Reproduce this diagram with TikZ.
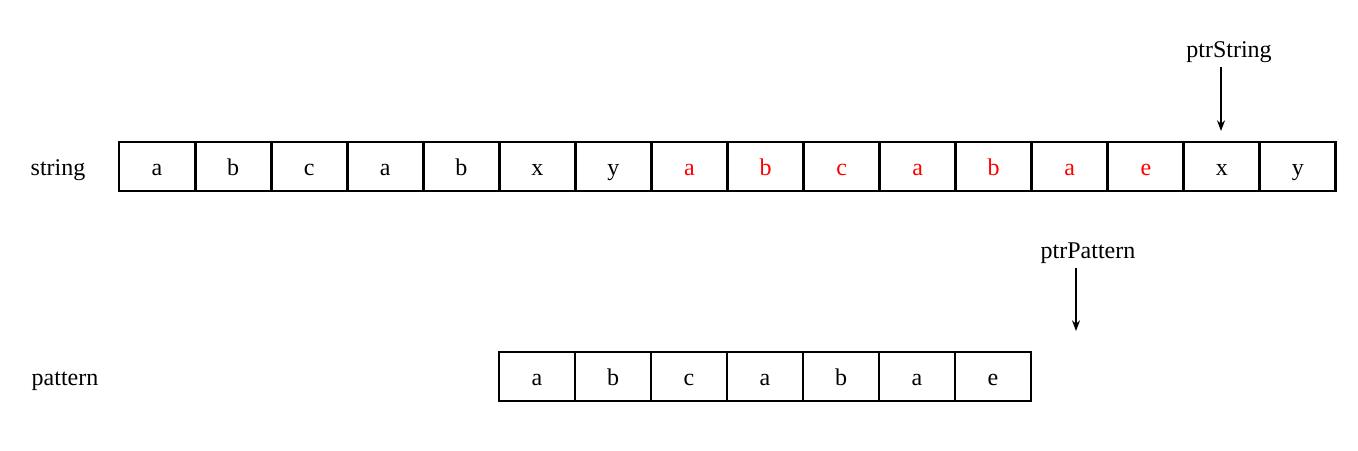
\documentclass[tikz,border=0pt]{standalone}
\usepackage{fontspec}
\setmainfont{Liberation Serif}
\usetikzlibrary{arrows.meta}
\definecolor{hired}{RGB}{255,0,0}
\begin{document}
\begin{tikzpicture}[x=0.75pt,y=-0.75pt,
  cell/.style={draw,line width=2.2pt,minimum width=57pt,minimum height=36.75pt,inner sep=0pt,
    text height=16pt,text depth=2pt,font=\fontsize{18}{20}\selectfont},
  hl/.style={text=hired},
  lbl/.style={inner sep=0pt,text height=16pt,text depth=2pt,font=\fontsize{18}{20}\selectfont},
  ptr/.style={line width=1.1pt,-{Stealth[length=8pt,width=6pt]}}]
\useasboundingbox (0,0) rectangle (1358,450);
\node[lbl] (slabel) at (58,166.5) {string};
\node[lbl] (plabel) at (65,376.5) {pattern};
\foreach \c [count=\i] in {a,b,c,a,b,x,y}
  \node[cell] (s\i) at ({119+76.06*(\i-0.5)},166.5) {\c};
\foreach \c [count=\i from 8] in {a,b,c,a,b,a,e}
  \node[cell,hl] (s\i) at ({119+76.06*(\i-0.5)},166.5) {\c};
\foreach \c [count=\i from 15] in {x,y}
  \node[cell] (s\i) at ({119+76.06*(\i-0.5)},166.5) {\c};
\foreach \c [count=\i] in {a,b,c,a,b,a,e}
  \node[cell] (p\i) at ({499+76*(\i-0.5)},376.5) {\c};
\node[lbl] (ptrs) at (1229,48) {ptrString};
\node[lbl] (ptrp) at (1088,249) {ptrPattern};
\coordinate (sa) at (1221,67);
\coordinate (sb) at (1221,131);
\coordinate (pa) at (1076,268);
\coordinate (pb) at (1076,331);
\draw[ptr] (sa) -- (sb);
\draw[ptr] (pa) -- (pb);
\end{tikzpicture}
\end{document}
